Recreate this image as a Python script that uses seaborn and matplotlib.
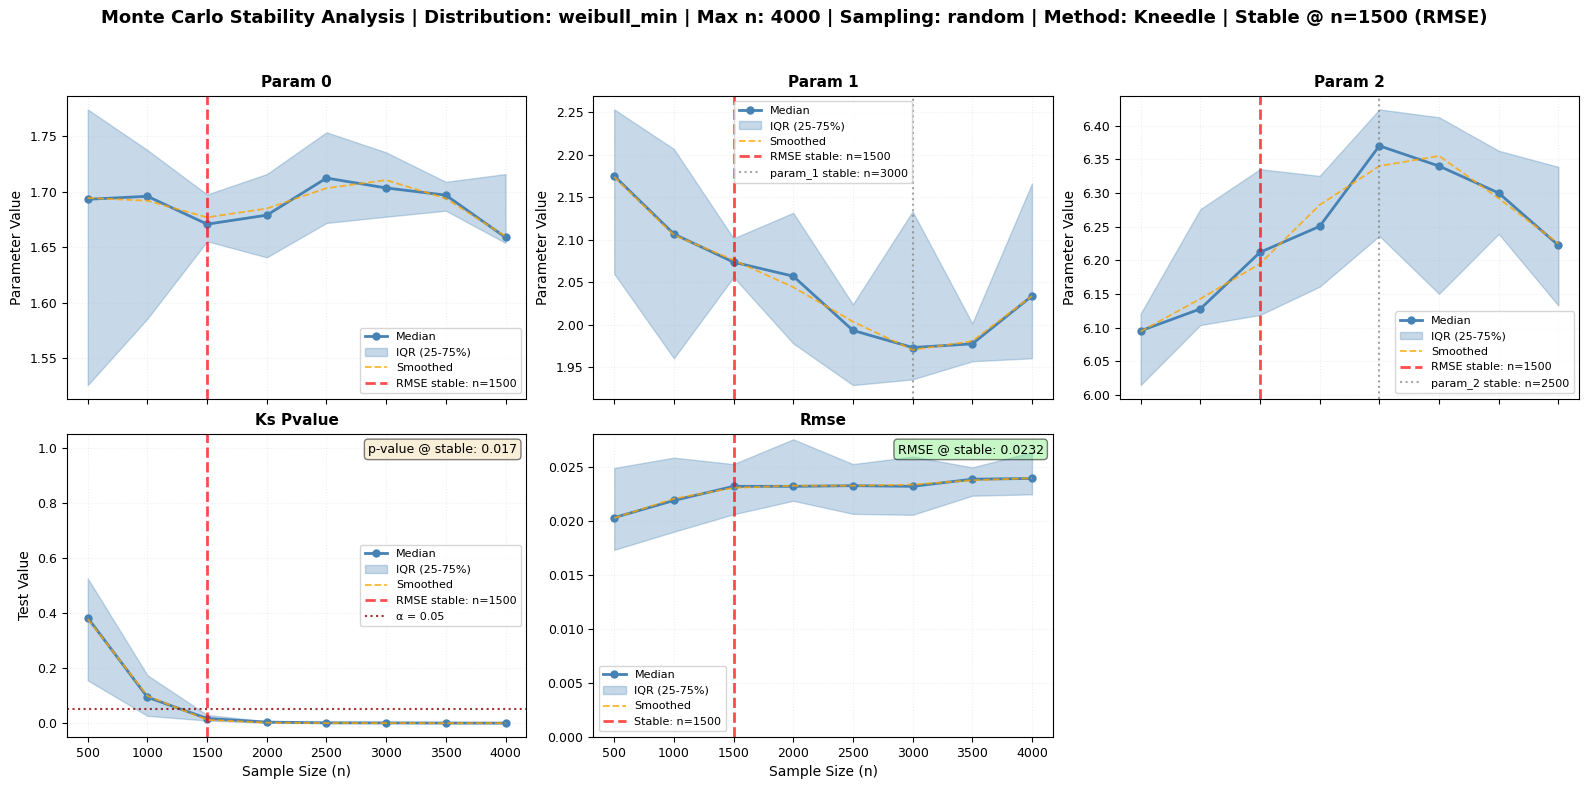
import numpy as np
import pandas as pd
import matplotlib
matplotlib.use("Agg")
import matplotlib.pyplot as plt
import seaborn as sns

sizes = [500, 1000, 1500, 2000, 2500, 3000, 3500, 4000]

# Param 0
p0_median = [1.6933, 1.6960, 1.6709, 1.6790, 1.7124, 1.7035, 1.6970, 1.6590]
p0_q25 = [1.5260, 1.5858, 1.6555, 1.6410, 1.6720, 1.6776, 1.6830, 1.6540]
p0_q75 = [1.7742, 1.7376, 1.6976, 1.7160, 1.7536, 1.7355, 1.7090, 1.7160]
p0_smooth = [1.6945, 1.6920, 1.6770, 1.6850, 1.7033, 1.7106, 1.6940, 1.6600]

# Param 1
p1_median = [2.1750, 2.1067, 2.0736, 2.0571, 1.9933, 1.9732, 1.9775, 2.0338]
p1_q25 = [2.0600, 1.9605, 2.0560, 1.9780, 1.9290, 1.9357, 1.9570, 1.9605]
p1_q75 = [2.2532, 2.2067, 2.1016, 2.1316, 2.0240, 2.1332, 2.0016, 2.1660]
p1_smooth = [2.1740, 2.1055, 2.0760, 2.0442, 2.0036, 1.9704, 1.9807, 2.0338]

# Param 2
p2_median = [6.0955, 6.1280, 6.2120, 6.2505, 6.3700, 6.3400, 6.3000, 6.2224]
p2_q25 = [6.0150, 6.1040, 6.1190, 6.1610, 6.2363, 6.1504, 6.2393, 6.1330]
p2_q75 = [6.1210, 6.2760, 6.3353, 6.3254, 6.4240, 6.4124, 6.3627, 6.3388]
p2_smooth = [6.0945, 6.1430, 6.1950, 6.2823, 6.3400, 6.3550, 6.2920, 6.2250]

# KS p-value
ks_median = [0.382, 0.0943, 0.017, 0.004, 0.0015, 0.0012, 0.0006, 0.0004]
ks_q25 = [0.1555, 0.0267, 0.0097, 0.0015, 0.0004, 0.0003, 0.0002, 0.0001]
ks_q75 = [0.5252, 0.1740, 0.0300, 0.0070, 0.0030, 0.0025, 0.0015, 0.0010]
ks_smooth = [0.378, 0.099, 0.012, 0.002, 0.0005, 0.0004, 0.0002, 0.0002]

# RMSE
rmse_median = [0.02034, 0.02193, 0.02324, 0.02324, 0.02330, 0.02324, 0.02390, 0.02397]
rmse_q25 = [0.01735, 0.01903, 0.02065, 0.02190, 0.02069, 0.02060, 0.02237, 0.02250]
rmse_q75 = [0.02494, 0.02590, 0.02530, 0.02760, 0.02530, 0.02600, 0.02500, 0.02640]
rmse_smooth = [0.0203, 0.0221, 0.0231, 0.0233, 0.0233, 0.0234, 0.0238, 0.0240]

stable_n = 1500
param_stable = {"param_1": 3000, "param_2": 2500}

fig, axes = plt.subplots(2, 3, figsize=(15.89, 7.89), dpi=100, sharex=True)


def draw_panel(ax, med, q25, q75, smooth, title):
    df = pd.DataFrame({"n": sizes, "median": med, "smooth": smooth})
    sns.lineplot(data=df, x="n", y="median", ax=ax, color="steelblue", marker="o",
                 markersize=6, markeredgewidth=0, linewidth=2, label="Median")
    ax.fill_between(sizes, q25, q75, color="steelblue", alpha=0.3, label="IQR (25-75%)")
    sns.lineplot(data=df, x="n", y="smooth", ax=ax, color="orange", linestyle="--",
                 linewidth=1.3, alpha=0.8, label="Smoothed")
    ax.set_title(title, fontsize=11, fontweight="bold")
    ax.grid(True, alpha=0.2, linestyle=":")
    ax.tick_params(labelsize=9)
    ax.set_xlabel("")
    ax.set_ylabel("")


# parameter panels
params = [(p0_median, p0_q25, p0_q75, p0_smooth), (p1_median, p1_q25, p1_q75, p1_smooth),
          (p2_median, p2_q25, p2_q75, p2_smooth)]
locs = ["lower right", "upper center", "lower right"]
for i, (med, q25, q75, sm) in enumerate(params):
    ax = axes[0, i]
    draw_panel(ax, med, q25, q75, sm, f"Param {i}")
    ax.axvline(stable_n, color="red", linestyle="--", linewidth=2, alpha=0.7,
               label=f"RMSE stable: n={stable_n}")
    key = f"param_{i}"
    if key in param_stable:
        ax.axvline(param_stable[key], color="gray", linestyle=":", linewidth=1.5, alpha=0.7,
                   label=f"{key} stable: n={param_stable[key]}")
    ax.set_ylabel("Parameter Value", fontsize=10)
    ax.legend(loc=locs[i], fontsize=8)

# KS p-value
ax = axes[1, 0]
draw_panel(ax, ks_median, ks_q25, ks_q75, ks_smooth, "Ks Pvalue")
ax.axvline(stable_n, color="red", linestyle="--", linewidth=2, alpha=0.7,
           label=f"RMSE stable: n={stable_n}")
ax.axhline(0.05, color="darkred", linestyle=":", linewidth=1.5, alpha=0.8, label="α = 0.05")
ax.set_ylim(-0.05, 1.05)
ax.set_ylabel("Test Value", fontsize=10)
ax.set_xlabel("Sample Size (n)", fontsize=10)
ax.legend(loc="center right", fontsize=8)
ax.text(0.98, 0.97, "p-value @ stable: 0.017", transform=ax.transAxes, ha="right", va="top",
        fontsize=9, bbox=dict(boxstyle="round", facecolor="wheat", alpha=0.5))

# RMSE
ax = axes[1, 1]
draw_panel(ax, rmse_median, rmse_q25, rmse_q75, rmse_smooth, "Rmse")
ax.axvline(stable_n, color="red", linestyle="--", linewidth=2, alpha=0.7,
           label=f"Stable: n={stable_n}")
ax.set_ylim(bottom=0)
ax.set_xlabel("Sample Size (n)", fontsize=10)
ax.legend(loc="lower left", fontsize=8)
ax.text(0.98, 0.97, "RMSE @ stable: 0.0232", transform=ax.transAxes, ha="right", va="top",
        fontsize=9, bbox=dict(boxstyle="round", facecolor="lightgreen", alpha=0.5))

axes[1, 2].set_visible(False)
axes[1, 0].set_xticks(sizes)
for ax in axes[0]:
    ax.tick_params(labelbottom=False)

fig.suptitle("Monte Carlo Stability Analysis | Distribution: weibull_min | Max n: 4000 | "
             "Sampling: random | Method: Kneedle | Stable @ n=1500 (RMSE)",
             fontsize=13, fontweight="bold", y=0.988)
plt.tight_layout(rect=[0, 0, 1, 0.952], pad=0.7)
plt.savefig("out.png", dpi=100)
